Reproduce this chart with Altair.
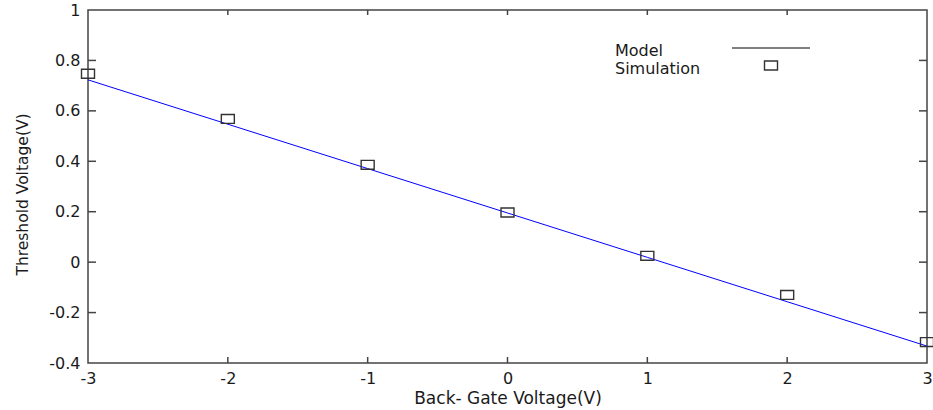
import altair as alt
import pandas as pd

# ---- data ----
sim_x = [-3, -2, -1, 0, 1, 2, 3]
sim_y = [0.747, 0.568, 0.386, 0.197, 0.025, -0.13, -0.317]

model_x = [-3, -2, -1, 0, 1, 2, 3]
model_y = [0.723, 0.547, 0.371, 0.195, 0.019, -0.157, -0.333]

x_ticks = [-3, -2, -1, 0, 1, 2, 3]
y_ticks = [-0.4, -0.2, 0, 0.2, 0.4, 0.6, 0.8, 1]
legend_labels = ["Model", "Simulation"]

W, H = 839, 353
FONT = "DejaVu Sans"
FRAME = "#444444"
TXT = "#1a1a1a"
RECT = "M-1,-0.69L1,-0.69L1,0.69L-1,0.69Z"

xs = alt.Scale(domain=[-3, 3], nice=False, zero=False)
ys = alt.Scale(domain=[-0.4, 1], nice=False, zero=False)

x_axis = alt.Axis(
    values=x_ticks, title="Back- Gate Voltage(V)", grid=False, domain=False,
    ticks=False, tickSize=0, labelPadding=7, labelFlush=False, labelOverlap=False,
    labelExpr="replace(format(datum.value, 'd'), '\u2212', '-')",
    labelFont=FONT, labelFontSize=16, labelColor=TXT,
    titleFont=FONT, titleFontSize=17, titleFontWeight="normal", titleColor=TXT,
    titlePadding=4,
)
y_axis = alt.Axis(
    values=y_ticks, title="Threshold Voltage(V)", grid=False, domain=False,
    ticks=False, tickSize=0, labelPadding=8, labelFlush=False, labelOverlap=False,
    labelExpr="replace(format(datum.value, '.1~f'), '\u2212', '-')",
    labelFont=FONT, labelFontSize=16, labelColor=TXT,
    titleFont=FONT, titleFontSize=15.5, titleFontWeight="normal", titleColor=TXT,
    titleX=-66, titleY=184, titleBaseline="middle", titleAlign="center",
)

model_df = pd.DataFrame({"x": model_x, "y": model_y})
sim_df = pd.DataFrame({"x": sim_x, "y": sim_y})

line = alt.Chart(model_df).mark_line(color="#0000ff", strokeWidth=1).encode(
    x=alt.X("x:Q", scale=xs, axis=x_axis),
    y=alt.Y("y:Q", scale=ys, axis=y_axis),
)
points = alt.Chart(sim_df).mark_point(
    shape=RECT, size=169, filled=False, stroke="#333333", strokeWidth=1.4, opacity=1
).encode(
    x=alt.X("x:Q", scale=xs),
    y=alt.Y("y:Q", scale=ys),
)

xt_df = pd.DataFrame({"x": x_ticks[1:-1]})
yt_df = pd.DataFrame({"y": y_ticks[1:-1]})
tick_style = dict(color=FRAME, strokeWidth=1.5)
bottom_ticks = alt.Chart(xt_df).mark_rule(**tick_style).encode(
    x=alt.X("x:Q", scale=xs), y=alt.value(H), y2=alt.value(H - 6))
top_ticks = alt.Chart(xt_df).mark_rule(**tick_style).encode(
    x=alt.X("x:Q", scale=xs), y=alt.value(0), y2=alt.value(5))
left_ticks = alt.Chart(yt_df).mark_rule(**tick_style).encode(
    y=alt.Y("y:Q", scale=ys), x=alt.value(0), x2=alt.value(8))
right_ticks = alt.Chart(yt_df).mark_rule(**tick_style).encode(
    y=alt.Y("y:Q", scale=ys), x=alt.value(W), x2=alt.value(W - 8))

legend_y = [46, 64]
legend_texts = [
    alt.Chart(pd.DataFrame({"label": [lab]})).mark_text(
        align="left", baseline="alphabetic", font=FONT, fontSize=16, color=TXT
    ).encode(x=alt.value(527), y=alt.value(yy), text="label:N")
    for lab, yy in zip(legend_labels, legend_y)
]
legend_line = alt.Chart(pd.DataFrame({"k": [0]})).mark_rule(
    color="#000000", strokeWidth=1
).encode(x=alt.value(644), x2=alt.value(722), y=alt.value(38))
legend_sym = alt.Chart(pd.DataFrame({"k": [0]})).mark_point(
    shape=RECT, size=169, filled=False, stroke="#333333", strokeWidth=1.4, opacity=1
).encode(x=alt.value(683), y=alt.value(55.5))

chart = alt.layer(
    line, points, bottom_ticks, top_ticks, left_ticks, right_ticks,
    *legend_texts, legend_line, legend_sym,
).properties(
    width=W, height=H,
    autosize=alt.AutoSizeParams(type="none"),
    padding={"left": 88, "top": 10, "right": 6, "bottom": 47},
    background="white",
).configure_view(stroke=FRAME, strokeWidth=1.5)

chart.save("out.html", embed_options={"renderer": "svg", "actions": False})
